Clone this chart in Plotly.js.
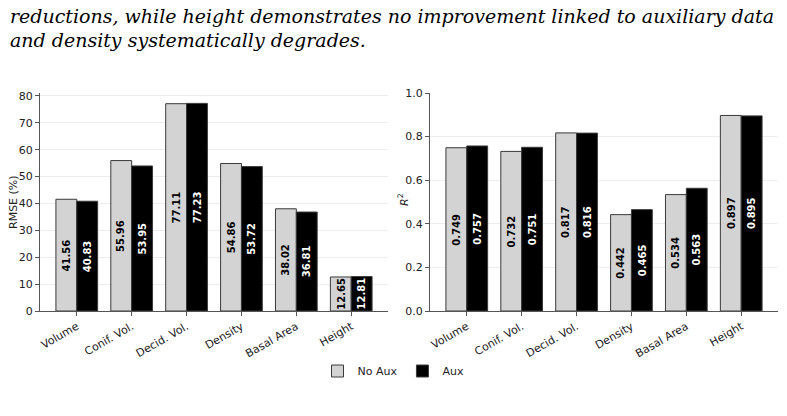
<!DOCTYPE html>
<html>
<head>
<meta charset="utf-8">
<script src="https://cdn.plot.ly/plotly-3.0.1.min.js"></script>
<style>
  html, body { margin: 0; padding: 0; background: #fff; }
  #chart { width: 787px; height: 416px; }
</style>
</head>
<body>
<div id="chart"></div>
<script>
// Target variables evaluated with and without auxiliary data
const categories = ["Volume", "Conif. Vol.", "Decid. Vol.", "Density", "Basal Area", "Height"];

// Relative RMSE (%)
const rmseNoAux = [41.56, 55.96, 77.11, 54.86, 38.02, 12.65];
const rmseAux   = [40.83, 53.95, 77.23, 53.72, 36.81, 12.81];

// Coefficient of determination
const r2NoAux = [0.749, 0.732, 0.817, 0.442, 0.534, 0.897];
const r2Aux   = [0.757, 0.751, 0.816, 0.465, 0.563, 0.895];

const seriesNames = ["No Aux", "Aux"];

const LIGHT = "#d3d3d3";
const DARK = "#000000";
const EDGE = "#3a3a3a";
const BAR_W = 0.38;
const W = 787, H = 416;

function barTrace(name, y, color, xa, ya, showlegend) {
  return {
    type: "bar",
    name: name,
    x: categories,
    y: y,
    xaxis: xa,
    yaxis: ya,
    marker: { color: color, line: { color: EDGE, width: 1 } },
    showlegend: showlegend,
    legendgroup: name,
    hoverinfo: "skip"
  };
}

const traces = [
  barTrace(seriesNames[0], rmseNoAux, LIGHT, "x", "y", true),
  barTrace(seriesNames[1], rmseAux, DARK, "x", "y", true),
  barTrace(seriesNames[0], r2NoAux, LIGHT, "x2", "y2", false),
  barTrace(seriesNames[1], r2Aux, DARK, "x2", "y2", false)
];

// Vertical value labels placed at mid-height of each bar
function valueLabels(values, offset, xref, yref, color, fmt) {
  return values.map((v, i) => ({
    x: i + offset,
    y: v / 2,
    xref: xref,
    yref: yref,
    text: fmt(v),
    textangle: -90,
    showarrow: false,
    font: { family: "DejaVu Sans", size: 10, color: color, weight: "bold" },
    xanchor: "center",
    yanchor: "middle"
  }));
}

const annotations = [].concat(
  valueLabels(rmseNoAux, -BAR_W / 2, "x", "y", "#000", v => v.toFixed(2)),
  valueLabels(rmseAux, BAR_W / 2, "x", "y", "#fff", v => v.toFixed(2)),
  valueLabels(r2NoAux, -BAR_W / 2, "x2", "y2", "#000", v => v.toFixed(3)),
  valueLabels(r2Aux, BAR_W / 2, "x2", "y2", "#fff", v => v.toFixed(3))
);

// helper: annotation placed by pixel position on the page
function pageText(px, py, text, font, opts) {
  return Object.assign({
    x: px / W, y: 1 - py / H, xref: "paper", yref: "paper",
    text: text, showarrow: false, font: font
  }, opts || {});
}

// Running text above the figure
const serif = { family: "DejaVu Serif", size: 19, color: "#000", style: "italic" };
annotations.push(pageText(8, 16,
  "reductions, while height demonstrates no improvement linked to auxiliary data",
  serif, { xanchor: "left", yanchor: "middle" }));
annotations.push(pageText(8, 40,
  "and density systematically degrades.",
  serif, { xanchor: "left", yanchor: "middle" }));

// Axis titles
const titleFont = { family: "DejaVu Sans", size: 11, color: "#222" };
annotations.push(pageText(13, 202, "RMSE (%)", titleFont,
  { textangle: -90, xanchor: "center", yanchor: "middle" }));
annotations.push(pageText(403, 200, "<i>R</i><sup>2</sup>", titleFont,
  { textangle: -90, xanchor: "center", yanchor: "middle" }));

const yDomain = [(H - 311) / H, (H - 93) / H];
const tickFont = { family: "DejaVu Sans", size: 11, color: "#222" };

function xAxis(domain, anchor) {
  return {
    domain: domain,
    anchor: anchor,
    type: "category",
    range: [-0.67, 5.67],
    tickangle: -30,
    tickfont: tickFont,
    showline: true,
    linecolor: "#555",
    linewidth: 1,
    ticks: "outside",
    ticklen: 4,
    tickcolor: "#555",
    showgrid: false,
    zeroline: false,
    fixedrange: true
  };
}

function yAxis(anchor, range, dtick, fmt) {
  return {
    domain: yDomain,
    anchor: anchor,
    range: range,
    dtick: dtick,
    tick0: 0,
    tickformat: fmt,
    tickfont: tickFont,
    showline: true,
    linecolor: "#555",
    linewidth: 1,
    ticks: "outside",
    ticklen: 4,
    tickcolor: "#555",
    showgrid: true,
    gridcolor: "rgba(0,0,0,0.07)",
    gridwidth: 1,
    zeroline: false,
    fixedrange: true
  };
}

const layout = {
  width: W,
  height: H,
  margin: { l: 0, r: 0, t: 0, b: 0 },
  paper_bgcolor: "#fff",
  plot_bgcolor: "#fff",
  barmode: "group",
  bargap: 1 - 2 * BAR_W,
  bargroupgap: 0,
  xaxis: xAxis([40 / W, 388 / W], "y"),
  yaxis: yAxis("x", [0, 81.09], 10, "d"),
  xaxis2: xAxis([430 / W, 778 / W], "y2"),
  yaxis2: yAxis("x2", [0, 1.0], 0.2, ".1f"),
  showlegend: true,
  legend: {
    orientation: "h",
    x: 0.5,
    xanchor: "center",
    y: (H - 371) / H,
    yanchor: "middle",
    font: { family: "DejaVu Sans", size: 11, color: "#222" },
    itemwidth: 30,
    traceorder: "normal",
    bgcolor: "rgba(0,0,0,0)"
  },
  annotations: annotations
};

Plotly.newPlot("chart", traces, layout, { displayModeBar: false, staticPlot: true });
</script>
</body>
</html>
